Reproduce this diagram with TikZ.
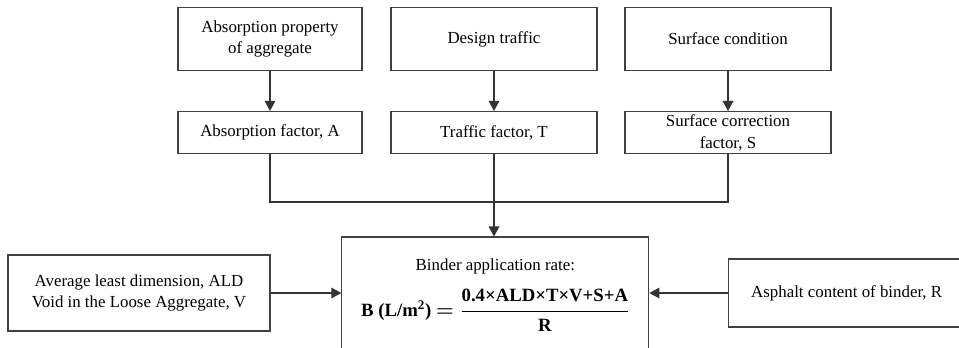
\documentclass[tikz,border=0pt]{standalone}
\usepackage{fontspec}
\setmainfont{Liberation Serif}
\usetikzlibrary{arrows.meta}

\begin{document}
\begin{tikzpicture}[
		blk/.style={draw=black!75, rectangle, line width=0.9pt, align=center, inner sep=2pt,
			font=\fontsize{14.4}{18.7}\selectfont},
		flow/.style={draw=black!80, line width=0.9pt, -{Triangle[length=0.3cm, width=0.32cm]}}
	]
			\useasboundingbox (0,0) rectangle (28.77,10.41);
			\clip (0,0) rectangle (28.77,10.41);

			\draw (8.10,9.24) node (prop) [blk, minimum width=5.52cm, minimum height=1.9cm] {Absorption property\\of aggregate};
			\draw (14.82,9.24) node (design) [blk, minimum width=6.18cm, minimum height=1.9cm] {Design traffic};
			\draw (21.84,9.24) node (surf) [blk, minimum width=6.18cm, minimum height=1.9cm] {Surface condition};

			\draw (8.10,6.435) node (absf) [blk, minimum width=5.52cm, minimum height=1.26cm] {Absorption factor, A};
			\draw (14.82,6.435) node (traf) [blk, minimum width=6.18cm, minimum height=1.26cm] {Traffic factor, T};
			\draw (21.84,6.435) node (surfc) [blk, minimum width=6.18cm, minimum height=1.26cm] {Surface correction\\factor, S};

			\draw (14.86,1.53) node (binder) [blk, minimum width=9.21cm, minimum height=3.54cm]
				{Binder application rate:\\[12pt]
				{\fontsize{16}{19}\selectfont\textbf{B (L/m\textsuperscript{2})} {\boldmath$\displaystyle = {\mbox{\bfseries 0.4×ALD×T×V+S+A} \above 1.4pt \mbox{\bfseries R}}$}}\\[-4pt]};

			\draw (4.17,1.62) node (ald) [blk, minimum width=7.86cm, minimum height=2.28cm]
				{Average least dimension, ALD\\Void in the Loose Aggregate, V};
			\draw (25.40,1.62) node (asph) [blk, minimum width=7.11cm, minimum height=2.04cm] {Asphalt content of binder, R};

			\coordinate (jn) at (14.82,4.35);

			\draw[flow] (prop) -- (absf);
			\draw[flow] (design) -- (traf);
			\draw[flow] (surf) -- (surfc);

			\draw[draw=black!80, line width=0.9pt] (absf) |- (jn) -| (surfc);
			\draw[flow] (traf) -- (traf |- binder.north);

			\draw[flow] (ald) -- (ald -| binder.west);
			\draw[flow] (asph) -- (asph -| binder.east);
		\end{tikzpicture}
\end{document}
